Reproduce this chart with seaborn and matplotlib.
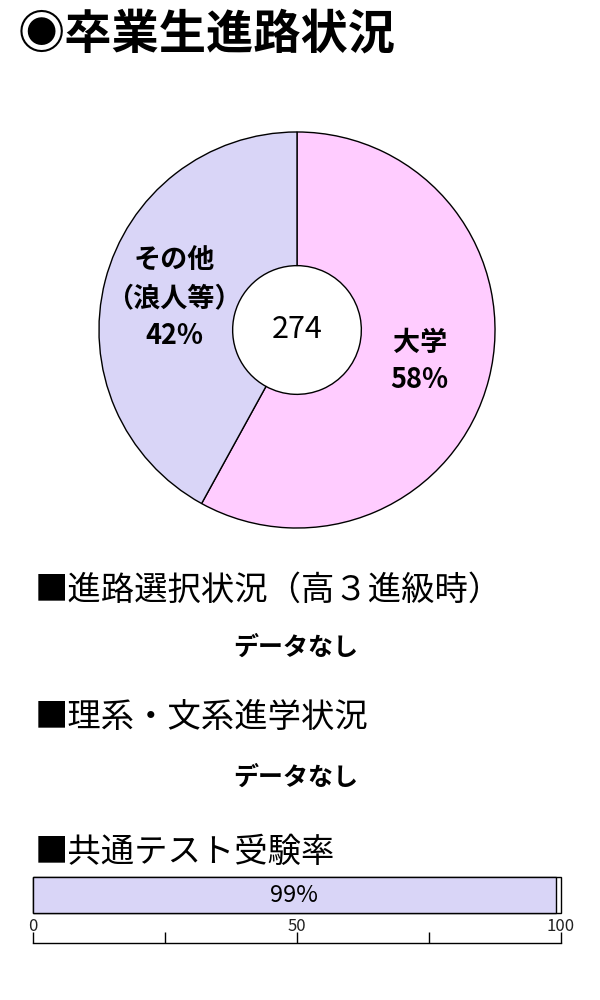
import matplotlib
matplotlib.use('Agg')
import matplotlib.pyplot as plt
import seaborn as sns
from matplotlib.ticker import FixedLocator, FixedFormatter

# chart data
title = '◉卒業生進路状況'
total_graduates = 274
course_labels = ['大学', 'その他\n（浪人等）']
course_shares = [58, 42]
course_colors = ['#FFCCFF', '#D9D5F7']

section_titles = ['■進路選択状況（高３進級時）', '■理系・文系進学状況', '■共通テスト受験率']
no_data_text = 'データなし'

exam_label = ['共通テスト受験率']
exam_rate = [99]
exam_full = [100]
scale_ticks = [0, 25, 50, 75, 100]
scale_labels = ['0', '', '50', '', '100']

sns.set_theme(style='white')
plt.rcParams['font.family'] = ['Noto Sans CJK JP', 'DejaVu Sans']
plt.rcParams['text.color'] = 'black'

fig = plt.figure(figsize=(6, 10), dpi=100)

# title
fig.text(0.03, 0.965, title, fontsize=34, fontweight='bold', va='center', ha='left')

# donut chart
ax_pie = fig.add_axes([97 / 600, 0.47, 400 / 600, 0.4])
pie_text = [f'{l}\n{v}%' for l, v in zip(course_labels, course_shares)]
ax_pie.pie(course_shares, colors=course_colors, startangle=90, counterclock=False,
           labels=pie_text, labeldistance=0.64,
           wedgeprops=dict(width=0.675, edgecolor='black', linewidth=1),
           textprops=dict(fontsize=19.5, fontweight='bold', ha='center', va='center',
                          linespacing=1.45, color='black'))
ax_pie.text(0, 0, str(total_graduates), ha='center', va='center', fontsize=22, color='black')
ax_pie.set_xlim(-1.01, 1.01)
ax_pie.set_ylim(-1.01, 1.01)

# section headers
fig.text(0.058, 0.41, section_titles[0], fontsize=24, va='center', ha='left')
fig.text(0.493, 0.352, no_data_text, fontsize=18, fontweight='bold', va='center', ha='center')
fig.text(0.058, 0.282, section_titles[1], fontsize=24, va='center', ha='left')
fig.text(0.493, 0.222, no_data_text, fontsize=18, fontweight='bold', va='center', ha='center')
fig.text(0.058, 0.148, section_titles[2], fontsize=24, va='center', ha='left')

# exam rate bar
ax_bar = fig.add_axes([33 / 600, 1 - 913 / 1000, 528 / 600, 36 / 1000])
sns.barplot(x=exam_full, y=exam_label, orient='h', color='white', saturation=1,
            edgecolor='black', linewidth=1, width=1, ax=ax_bar)
sns.barplot(x=exam_rate, y=exam_label, orient='h', color=course_colors[1], saturation=1,
            edgecolor='black', linewidth=1, width=1, ax=ax_bar)
ax_bar.bar_label(ax_bar.containers[1], labels=[f'{v}%' for v in exam_rate],
                 label_type='center', fontsize=17, color='black')
for p in ax_bar.patches:
    p.set_clip_on(False)
ax_bar.set_xlim(0, 100)
ax_bar.set_ylim(0.5, -0.5)
ax_bar.axis('off')

# scale below the bar
ax_scale = fig.add_axes([33 / 600, 1 - 943 / 1000, 528 / 600, 8 / 1000])
ax_scale.set_xlim(0, 100)
ax_scale.patch.set_alpha(0)
for side in ['left', 'right', 'top']:
    ax_scale.spines[side].set_visible(False)
ax_scale.spines['bottom'].set_color('black')
ax_scale.spines['bottom'].set_linewidth(1)
ax_scale.set_yticks([])
ax_scale.xaxis.set_major_locator(FixedLocator(scale_ticks))
ax_scale.xaxis.set_major_formatter(FixedFormatter(scale_labels))
ax_scale.tick_params(axis='x', direction='in', length=8, width=1, color='black',
                     bottom=True, top=False, labelbottom=False, labeltop=True,
                     labelsize=12, labelcolor='#222222', pad=0)

fig.savefig('out.png', dpi=100)
